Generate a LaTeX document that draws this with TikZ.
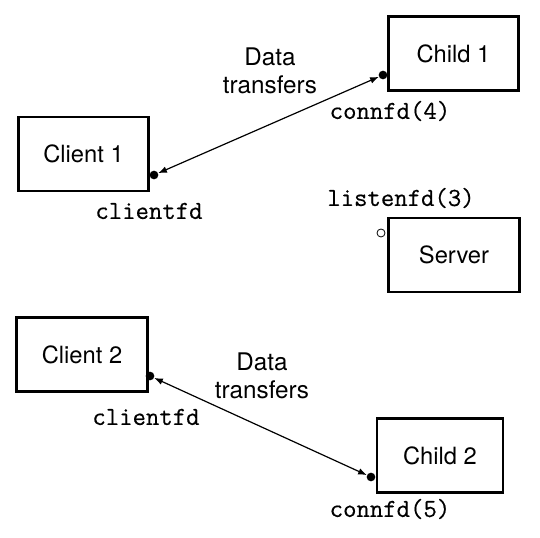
\documentclass[tikz,border=0pt]{standalone}
\usepackage{fontspec}
\setmainfont{TeX Gyre Heros}
\newfontfamily\fdfont{Latin Modern Mono}[FakeBold=0.4]
\usetikzlibrary{arrows.meta}

\tikzset{
  procbox/.style={draw, line width=2.2pt, minimum width=98pt, minimum height=55.5pt, inner sep=0pt, font=\fontsize{17.8}{21}\selectfont},
  fddot/.style={circle, fill=black, inner sep=0pt, minimum size=6.5pt},
  fdopen/.style={circle, draw=black, fill=white, line width=0.6pt, inner sep=0pt, minimum size=6pt},
  fdname/.style={inner sep=0.75pt, font=\fontsize{19.5}{22}\fdfont},
  xferlabel/.style={inner sep=0.75pt, align=center, font=\fontsize{18.2}{20.5}\selectfont},
  xfer/.style={{Latex[length=6.5pt,width=5pt]}-{Latex[length=6.5pt,width=5pt]}, line width=0.9pt}
}

\begin{document}
\begin{tikzpicture}[x=0.75pt,y=0.75pt,yscale=-1,xscale=1]
\useasboundingbox (0,0) rectangle (540,538);

%Shape: Rectangle [Child 1]
\node [procbox] (child1) at (453.5,53.5) {Child 1};
%Shape: Rectangle [Client 1]
\node [procbox] (client1) at (83.5,154) {Client 1};
%Shape: Rectangle [Server]
\node [procbox] (server) at (454,255) {Server};
%Shape: Rectangle [Client 2]
\node [procbox] (client2) at (82,354.5) {Client 2};
%Shape: Rectangle [Child 2]
\node [procbox, minimum width=94.5pt] (child2) at (440,455.5) {Child 2};

%Descriptors
\node [fddot] (ch1fd) at (383,75) {};
\node [fddot] (cl1fd) at (154,175) {};
\node [fdopen] (listenfd) at (381,233) {};
\node [fddot] (cl2fd) at (150,376) {};
\node [fddot] (ch2fd) at (371,477) {};

%Straight Lines
\draw [xfer] (cl1fd) -- (ch1fd);
%Straight Lines
\draw [xfer] (cl2fd) -- (ch2fd);

% Text Node
\node [xferlabel] (xfer1) at (270,71) {Data\\transfers};
% Text Node
\node [xferlabel] (xfer2) at (262,376) {Data\\transfers};
% Text Node
\node [fdname] (connfd4) at (390,111) {connfd(4)};
% Text Node
\node [fdname] (clientfd1) at (149,211) {clientfd};
% Text Node
\node [fdname] (listenfd3) at (401,198) {listenfd(3)};
% Text Node
\node [fdname] (clientfd2) at (146,417) {clientfd};
% Text Node
\node [fdname] (connfd5) at (390,509) {connfd(5)};
\end{tikzpicture}
\end{document}
